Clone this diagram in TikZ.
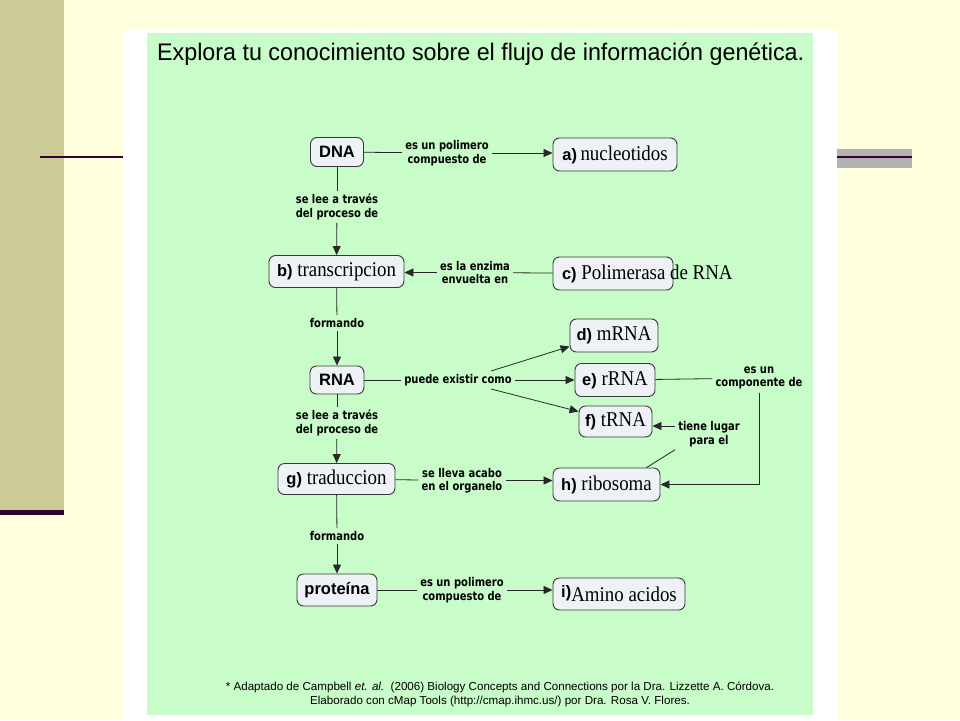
\documentclass[tikz,border=0pt]{standalone}
\usepackage{fontspec}
\setmainfont{Liberation Serif}
\newfontfamily\arialf{Liberation Sans}
\newfontfamily\titlef{Liberation Sans}[FakeStretch=0.97]
\newfontfamily\serifc{Liberation Serif}[FakeStretch=0.9]
\newfontfamily\verdc{DejaVu Sans}[FakeStretch=0.83]
\usetikzlibrary{arrows.meta,calc}
\definecolor{cream}{RGB}{255,255,221}
\definecolor{olive}{RGB}{204,204,153}
\definecolor{plum}{RGB}{51,0,51}
\definecolor{grayb}{RGB}{178,178,178}
\definecolor{mapgreen}{RGB}{200,252,200}
\definecolor{cfill}{RGB}{238,242,246}
\definecolor{cdraw}{RGB}{55,55,55}
\definecolor{lnk}{RGB}{40,40,40}
\newcommand{\cl}[1]{{\arialf\bfseries\fontsize{16.5}{19}\selectfont #1}}
\begin{document}
\begin{tikzpicture}[x=1pt,y=-1pt,
 concept/.style={draw=cdraw, fill=cfill, rounded corners=6.5pt, line width=0.9pt, inner sep=0pt, font=\serifc\fontsize{21}{24}\selectfont},
 sconcept/.style={concept, font=\arialf\bfseries\fontsize{16.5}{19}\selectfont},
 linklab/.style={font=\verdc\bfseries\fontsize{12}{13.5}\selectfont, align=center, inner sep=3pt},
 conn/.style={draw=lnk, line width=0.8pt},
 arr/.style={conn, -{Triangle[length=9pt,width=8pt]}},
]
\useasboundingbox (0,0) rectangle (960,720);
% background
\fill[cream] (0,0) rectangle (960,720);
\fill[olive] (0,0) rectangle (64,510);
\fill[plum] (0,510) rectangle (64,515);
\fill[white] (123,30) rectangle (838,720);
\fill[mapgreen] (147,33) rectangle (813,715);
\fill[plum] (40,156) rectangle (123,158);
\fill[grayb] (837,149) rectangle (912,168);
\fill[plum] (837,156) rectangle (912,158);

% title
\node[anchor=base west, inner sep=0pt, font=\titlef\fontsize{24}{27}\selectfont] (title) at (157,60) {Explora tu conocimiento sobre el flujo de información genética.};

% concepts
\node[sconcept, minimum width=53pt, minimum height=29pt] (dna) at (337,152) {DNA};
\node[concept, minimum width=124pt, minimum height=33pt] (a) at (615,154.5) {\cl{a)}\,nucleotidos};
\node[concept, minimum width=135pt, minimum height=32pt] (b) at (336.5,271.5) {\cl{b)} transcripcion};
\node[concept, minimum width=120pt, minimum height=33pt, inner xsep=9pt] (c) at (613,273.5) {\makebox[102pt][l]{\cl{c)} Polimerasa de RNA}};
\node[sconcept, minimum width=54pt, minimum height=28pt] (rna) at (337,380) {RNA};
\node[concept, minimum width=88pt, minimum height=33pt] (d) at (614,335.5) {\cl{d)} mRNA};
\node[concept, minimum width=80pt, minimum height=33pt] (e) at (615,380) {\cl{e)} rRNA};
\node[concept, minimum width=73pt, minimum height=31pt] (f) at (615.5,421.5) {\cl{f)} tRNA};
\node[concept, minimum width=117pt, minimum height=31pt] (g) at (336.5,479) {\cl{g)} traduccion};
\node[concept, minimum width=107pt, minimum height=33pt] (h) at (606.5,484.5) {\cl{h)} ribosoma};
\node[sconcept, minimum width=80pt, minimum height=32pt] (prot) at (337,590) {proteína};
\node[concept, minimum width=132pt, minimum height=32pt] (i) at (619,594) {\raisebox{4pt}{\cl{i)}}Amino acidos};

% link labels
\node[linklab] (l1) at (447,153) {es un polimero\\compuesto de};
\node[linklab] (l2) at (337,207) {se lee a través\\del proceso de};
\node[linklab] (l3) at (475,272.5) {es la enzima\\envuelta en};
\node[linklab] (l4) at (337,323) {formando};
\node[linklab] (l5) at (458,380) {puede existir como};
\node[linklab] (l6) at (337,423) {se lee a través\\del proceso de};
\node[linklab] (l7) at (759,378) {es un\\componente de};
\node[linklab] (l8) at (709,434) {tiene lugar\\para el};
\node[linklab] (l9) at (462,480.5) {se lleva acabo\\en el organelo};
\node[linklab] (l10) at (337,536) {formando};
\node[linklab] (l11) at (462,590) {es un polimero\\compuesto de};

% connectors
\draw[conn] (dna) -- (l1);
\draw[arr] (l1) -- (l1 -| a.west);
\draw[conn] (dna) -- (l2);
\draw[arr] (l2) -- (b);
\draw[conn] (c) -- (l3);
\draw[arr] (l3) -- (l3 -| b.east);
\draw[conn] (b) -- (l4);
\draw[arr] (l4) -- (rna);
\draw[conn] (rna) -- (l5);
\draw[arr] (l5) -- (e);
\draw[arr] ([xshift=33pt]l5.north) -- ([yshift=-11pt]d.west);
\draw[arr] ([xshift=33pt]l5.south) -- ([yshift=10pt]f.west);
\draw[conn] (e) -- (l7);
\draw[arr] (l7.south) |- (h.east);
\draw[conn] ([xshift=40pt]h.north) -- (l8.south west);
\draw[arr] ([yshift=8pt]l8.west) -- ([yshift=8pt]l8.west -| f.east);
\draw[conn] (rna) -- (l6);
\draw[arr] (l6) -- (g);
\draw[conn] (g) -- (l9);
\draw[arr] (l9) -- (l9 -| h.west);
\draw[conn] (g) -- (l10);
\draw[arr] (l10) -- (prot);
\draw[conn] (prot) -- (l11);
\draw[arr] (l11) -- (l11 -| i.west);

% footer
\node[font=\arialf\fontsize{11.6}{14}\selectfont, align=center, inner sep=0pt] (foot) at (500,694) {* Adaptado de Campbell \textit{et. al.}~~(2006) Biology Concepts and Connections por la Dra. Lizzette A. Córdova.\\Elaborado con cMap Tools (http://cmap.ihmc.us/) por Dra. Rosa V. Flores.};
\end{tikzpicture}
\end{document}
